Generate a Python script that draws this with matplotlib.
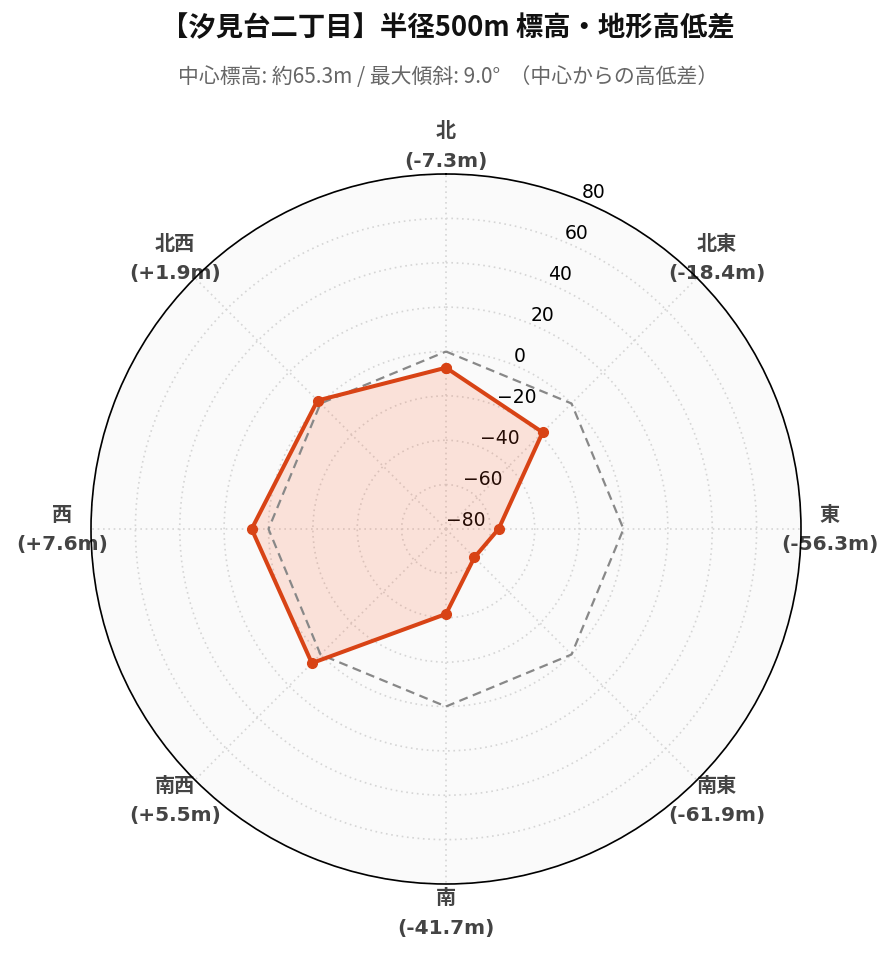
import numpy as np
import matplotlib.pyplot as plt

plt.rcParams['font.family'] = ['DejaVu Sans', 'Noto Sans CJK JP']

# 方位ごとの中心からの高低差 (m)
directions = ['北', '北東', '東', '南東', '南', '南西', '西', '北西']
diffs = [-7.3, -18.4, -56.3, -61.9, -41.7, 5.5, 7.6, 1.9]
center_elev = 65.3
max_slope = 9.0
title = '【汐見台二丁目】半径500m 標高・地形高低差'

labels = [f'{d}\n({v:+.1f}m)' if v > 0 else f'{d}\n({v:.1f}m)' for d, v in zip(directions, diffs)]
angles = np.deg2rad(np.arange(len(directions)) * 45.0)

fig = plt.figure(figsize=(8.96, 9.62), dpi=100)
ax = fig.add_axes([91 / 896, 77 / 962, 710 / 896, 710 / 962], projection='polar')
ax.set_theta_zero_location('N')
ax.set_theta_direction(-1)
ax.set_facecolor('#fafafa')

# closed polygons
th = np.append(angles, angles[0])
vals = np.append(diffs, diffs[0])
zero = np.zeros_like(th)

ax.plot(th, zero, color='#888888', lw=1.6, ls='--', dashes=(4, 2.5), zorder=3)
ax.fill(th, vals, color='#FF5722', alpha=0.15, zorder=2)
ax.plot(th, vals, color='#D84315', lw=2.9, marker='o', ms=7, zorder=4)

ax.set_ylim(-80, 80)
ax.set_yticks(np.arange(-80, 81, 20))
ax.tick_params(axis='y', labelsize=13.5)
ax.set_xticks(angles)
ax.set_xticklabels(labels, fontsize=14.5, fontweight='bold', color='#444444',
                   linespacing=1.7)
ax.tick_params(axis='x', pad=10)
ax.grid(True, ls=(0, (1, 2.2)), color='#d5d5d5', lw=1.2)
ax.spines['polar'].set_color('black')
ax.spines['polar'].set_linewidth(1.2)

fig.text(0.5, 1 - 28 / 962, title, ha='center', va='center', fontsize=19.7,
         fontweight='bold', family='Noto Sans CJK JP', color='#111111')
fig.text(0.5, 1 - 77 / 962,
         f'中心標高: 約{center_elev}m / 最大傾斜: {max_slope}°  （中心からの高低差）',
         ha='center', va='center', fontsize=15, family='Noto Sans CJK JP', color='#666666')

fig.savefig('out.png', dpi=100)
